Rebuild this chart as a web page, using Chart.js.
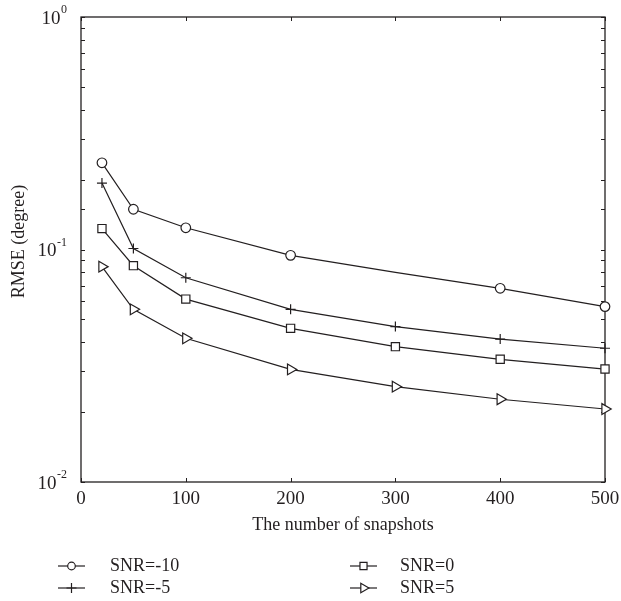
<!DOCTYPE html>
<html>
<head>
<meta charset="utf-8">
<script src="https://cdn.jsdelivr.net/npm/chart.js@4/dist/chart.umd.min.js"></script>
<style>
  html, body { margin: 0; padding: 0; background: #fff; }
  #wrap { width: 621px; height: 601px; }
</style>
</head>
<body>
<div id="wrap"><canvas id="c" width="621" height="601"></canvas></div>
<script>
// Number of snapshots on the x axis
const snapshots = [20, 50, 100, 200, 300, 400, 500];

// RMSE (degree) for each SNR setting
const rmseSnrM10 = [0.236, 0.149, 0.124, 0.0944, 0.0798, 0.0681, 0.0568];
const rmseSnrM5  = [0.193, 0.101, 0.0756, 0.0553, 0.0466, 0.0412, 0.0376];
const rmseSnr0   = [0.123, 0.0852, 0.0612, 0.0458, 0.0382, 0.0337, 0.0306];
const rmseSnr5   = [0.0844, 0.0553, 0.0415, 0.0305, 0.0257, 0.0227, 0.0206];

// Which points carry a marker on the SNR=-10 curve
const markedSnrM10 = [true, true, true, true, false, true, true];

const seriesNames = ['SNR=-10', 'SNR=-5', 'SNR=0', 'SNR=5'];

// Axis ticks
const xTicks = [0, 100, 200, 300, 400, 500];
const yMajorTicks = [1, 0.1, 0.01];
const yMajorExponents = ['0', '-1', '-2'];

const FONT = '"Liberation Serif", "DejaVu Serif", serif';
const INK = '#231f20';

function toPoints(ys) {
  return snapshots.map((x, i) => ({ x: x, y: ys[i] }));
}

const common = {
  borderColor: INK,
  borderWidth: 1.2,
  pointBorderColor: INK,
  pointBackgroundColor: '#ffffff',
  pointBorderWidth: 1.2,
  tension: 0,
  fill: false,
  clip: false
};

const datasets = [
  Object.assign({}, common, {
    label: seriesNames[0], data: toPoints(rmseSnrM10),
    pointStyle: 'circle', pointRadius: markedSnrM10.map(m => m ? 4.8 : 0), pointRotation: 0
  }),
  Object.assign({}, common, {
    label: seriesNames[1], data: toPoints(rmseSnrM5),
    pointStyle: 'cross', pointRadius: 5, pointRotation: 0
  }),
  Object.assign({}, common, {
    label: seriesNames[2], data: toPoints(rmseSnr0),
    pointStyle: 'rect', pointRadius: 5.8, pointRotation: 0
  }),
  Object.assign({}, common, {
    label: seriesNames[3], data: toPoints(rmseSnr5),
    pointStyle: 'triangle', pointRadius: 6.2, pointRotation: 90
  })
];

// Frame with inward tick marks on all four sides, plus labels and legend
const framePlugin = {
  id: 'frame',
  beforeDatasetsDraw(chart) {
    const { ctx, chartArea: a, scales: { x, y } } = chart;
    ctx.save();
    ctx.strokeStyle = INK;
    ctx.lineWidth = 1.3;
    ctx.strokeRect(a.left, a.top, a.right - a.left, a.bottom - a.top);
    ctx.lineWidth = 1;
    ctx.beginPath();
    const tl = 4;
    xTicks.forEach(v => {
      const px = Math.round(x.getPixelForValue(v)) + 0.5;
      ctx.moveTo(px, a.bottom); ctx.lineTo(px, a.bottom - tl);
      ctx.moveTo(px, a.top); ctx.lineTo(px, a.top + tl);
    });
    y.ticks.forEach(t => {
      const py = Math.round(y.getPixelForValue(t.value)) + 0.5;
      ctx.moveTo(a.left, py); ctx.lineTo(a.left + tl, py);
      ctx.moveTo(a.right, py); ctx.lineTo(a.right - tl, py);
    });
    ctx.stroke();
    ctx.restore();
  },
  afterDraw(chart) {
    const { ctx, chartArea: a, scales: { x, y } } = chart;
    ctx.save();
    ctx.fillStyle = INK;

    // x tick labels
    ctx.font = '19px ' + FONT;
    ctx.textAlign = 'center';
    ctx.textBaseline = 'middle';
    xTicks.forEach(v => {
      ctx.fillText(String(v), x.getPixelForValue(v), a.bottom + 17);
    });

    // y tick labels: 10 with a raised exponent
    yMajorTicks.forEach((v, i) => {
      const py = y.getPixelForValue(v) + 2;
      ctx.font = '12px ' + FONT;
      const expW = ctx.measureText(yMajorExponents[i]).width;
      ctx.textAlign = 'right';
      ctx.textBaseline = 'middle';
      ctx.fillText(yMajorExponents[i], a.left - 14, py - 9);
      ctx.font = '19px ' + FONT;
      ctx.fillText('10', a.left - 14 - expW - 0.5, py);
    });

    // axis titles
    ctx.font = '18px ' + FONT;
    ctx.textAlign = 'center';
    ctx.textBaseline = 'middle';
    ctx.fillText('The number of snapshots', (a.left + a.right) / 2, a.bottom + 43);
    ctx.save();
    ctx.translate(19, (a.top + a.bottom) / 2 - 8);
    ctx.rotate(-Math.PI / 2);
    ctx.fillText('RMSE (degree)', 0, 0);
    ctx.restore();

    // legend: two columns, line segment with marker
    const cols = [58, 350];
    const rows = [566, 588];
    [0, 1, 2, 3].forEach(i => {
      const col = Math.floor(i / 2), row = i % 2;
      const lx = cols[col], ly = rows[row];
      const ds = chart.data.datasets[i];
      ctx.strokeStyle = INK;
      ctx.lineWidth = 1.2;
      ctx.beginPath();
      ctx.moveTo(lx, ly); ctx.lineTo(lx + 27, ly);
      ctx.stroke();
      ctx.fillStyle = '#fff';
      const r = i === 0 ? 3.8 : (i === 1 ? 5 : (i === 2 ? 5 : 5.4));
      Chart.helpers.drawPoint(ctx, {
        pointStyle: ds.pointStyle, rotation: ds.pointRotation, radius: r, borderWidth: 1.2
      }, lx + 13.5, ly);
      ctx.fillStyle = INK;
      ctx.font = '18px ' + FONT;
      ctx.textAlign = 'left';
      ctx.textBaseline = 'middle';
      ctx.fillText(ds.label, lx + (col === 0 ? 52 : 50), ly);
    });
    ctx.restore();
  }
};

new Chart(document.getElementById('c'), {
  type: 'line',
  data: { datasets: datasets },
  options: {
    responsive: false,
    animation: false,
    devicePixelRatio: 1,
    layout: { padding: { left: 81, top: 17, right: 16, bottom: 119 } },
    plugins: { legend: { display: false }, tooltip: { enabled: false } },
    scales: {
      x: {
        type: 'linear', min: 0, max: 500,
        ticks: { display: false, stepSize: 100 },
        grid: { display: false }, border: { display: false },
        afterFit(s) { s.height = 0; }
      },
      y: {
        type: 'logarithmic', min: 0.01, max: 1,
        ticks: { display: false },
        grid: { display: false }, border: { display: false },
        afterFit(s) { s.width = 0; }
      }
    }
  },
  plugins: [framePlugin]
});
</script>
</body>
</html>
